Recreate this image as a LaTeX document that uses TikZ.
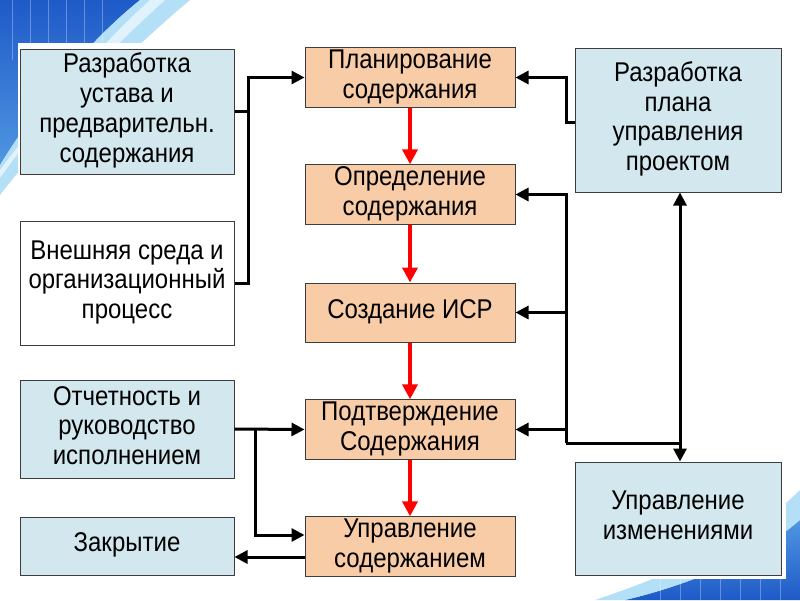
\documentclass[tikz,border=0pt]{standalone}
\usepackage{fontspec}
\setmainfont{Liberation Sans}
\usetikzlibrary{arrows.meta,calc}
\definecolor{boxblue}{RGB}{210,232,238}
\definecolor{boxorange}{RGB}{249,204,168}
\definecolor{boxline}{RGB}{60,60,60}
\definecolor{decdark}{RGB}{30,90,200}
\definecolor{decmid}{RGB}{80,150,225}
\definecolor{declight}{RGB}{160,215,245}
\newcommand\tx[1]{\scalebox{1}[1.13]{\fontsize{24}{26.3}\selectfont\begin{tabular}{@{}c@{}}#1\end{tabular}}}
\tikzset{
  x=1pt, y=-1pt,
  box/.style={draw=boxline, line width=1pt, minimum width=214pt, align=center,
    inner sep=0pt},
  bluebox/.style={box, fill=boxblue},
  whitebox/.style={box, fill=white},
  procbox/.style={box, fill=boxorange, minimum width=210pt, minimum height=59pt},
  conn/.style={line width=3pt, black},
  arr/.style={conn, -{Triangle[length=13pt,width=13pt]}},
  darr/.style={conn, {Triangle[length=13pt,width=13pt]}-{Triangle[length=13pt,width=13pt]}},
  redarr/.style={line width=4pt, red, -{Triangle[length=15pt,width=15pt]}},
}
\begin{document}
\begin{tikzpicture}
\useasboundingbox (0,0) rectangle (800,600);
\fill[white] (0,0) rectangle (800,600);
% decoration top-left
\shade[top color=decdark, bottom color=decmid] (0,0) -- (140,0) .. controls (90,40) and (40,100) .. (0,165) -- cycle;
\fill[declight, opacity=0.8] (140,0) -- (190,0) .. controls (130,50) and (50,130) .. (0,195) -- (0,165) .. controls (40,100) and (90,40) .. (140,0) -- cycle;
\fill[white, opacity=0.6] (150,0) -- (165,0) .. controls (110,50) and (40,120) .. (0,178) -- (0,170) .. controls (45,110) and (100,45) .. (150,0) -- cycle;
\foreach \xx in {12,30,48,66,84,102} {\draw[white, opacity=0.3, line width=1pt] (\xx,0) -- (\xx,60);}
% decoration bottom-right
\shade[top color=decmid, bottom color=decdark] (800,520) -- (800,600) -- (625,600) .. controls (690,585) and (760,555) .. (800,520) -- cycle;
\fill[declight, opacity=0.8] (800,490) -- (800,520) .. controls (760,555) and (690,585) .. (625,600) -- (595,600) .. controls (670,575) and (750,540) .. (800,490) -- cycle;
\foreach \xx in {660,680,700,720,740,760,780} {\draw[white, opacity=0.3, line width=1pt] (\xx,560) -- (\xx,600);}
% white panel
\fill[white] (18,43) rectangle (786,579);

% nodes
\node[bluebox, minimum height=125pt] (A) at (127,111.5) {\tx{Разработка\\устава и\\предварительн.\\содержания}};
\node[whitebox, minimum height=124pt] (B) at (127,283) {\tx{Внешняя среда и\\организационный\\процесс}};
\node[bluebox, minimum height=98pt] (C) at (127,429) {\tx{Отчетность и\\руководство\\исполнением}};
\node[bluebox, minimum height=58pt] (D) at (127,546) {\tx{Закрытие}};

\node[procbox] (P1) at (410,77.5) {\tx{Планирование\\содержания}};
\node[procbox] (P2) at (410,194.5) {\tx{Определение\\содержания}};
\node[procbox] (P3) at (410,312.5) {\tx{Создание ИСР}};
\node[procbox] (P4) at (410,429.5) {\tx{Подтверждение\\Содержания}};
\node[procbox] (P5) at (410,546.5) {\tx{Управление\\содержанием}};

\node[bluebox, minimum width=206pt, minimum height=144pt] (R1) at (678,120) {\tx{Разработка\\плана\\управления\\проектом}};
\node[bluebox, minimum width=206pt, minimum height=113pt] (R2) at (678,518.5) {\tx{Управление\\изменениями}};

% bus coordinates
\coordinate (lb) at (248,0);
\coordinate (lb2) at (255,0);
\coordinate (rb) at (566,0);
\coordinate (j) at (680,443);

% red flow
\draw[redarr] (P1.south) -- (P2.north);
\draw[redarr] (P2.south) -- (P3.north);
\draw[redarr] (P3.south) -- (P4.north);
\draw[redarr] (P4.south) -- (P5.north);

% left inputs
\draw[conn] (A.east) -- (A.east -| lb);
\draw[arr] (B.east) -- (B.east -| lb) |- (P1.west);
\draw[arr] (C.east) -- (P4.west);
\draw[arr] (C.east -| lb2) |- ([yshift=11.5pt]P5.west);
\draw[arr] ([yshift=-10.5pt]P5.west) -- ([yshift=-10.5pt]P5.west -| D.east);

% right side
\draw[arr] ([yshift=-2pt]R1.west) -- ([yshift=-2pt]R1.west -| rb) |- (P1.east);
\draw[conn] (j) -- (j -| rb);
\draw[arr] (j -| rb) |- (P2.east);
\draw[arr] (rb |- P3.east) -- (P3.east);
\draw[arr] (rb |- P4.east) -- (P4.east);
\draw[darr] (R1.south -| j) -- (R2.north -| j);
\end{tikzpicture}
\end{document}
